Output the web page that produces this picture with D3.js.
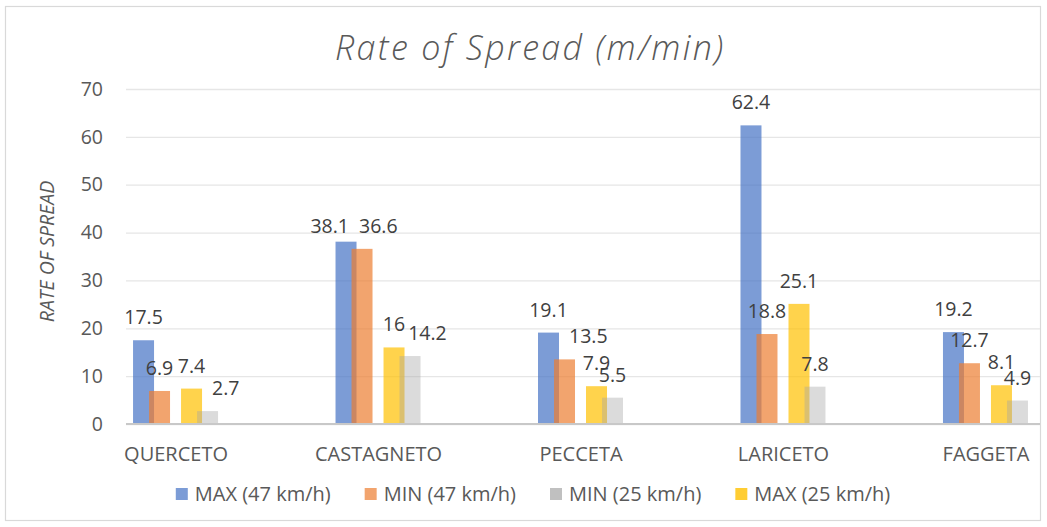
<!DOCTYPE html>
<html>
<head>
<meta charset="utf-8">
<script src="https://cdn.jsdelivr.net/npm/d3@7/dist/d3.min.js"></script>
<style>
  html, body { margin: 0; padding: 0; background: #fff; }
  svg { display: block; }
  text { font-family: "Open Sans", "Noto Sans", sans-serif; }
</style>
</head>
<body>
<svg id="chart" width="1047" height="527"></svg>
<script>
// Rate of spread by forest type (m/min)
const categories = ["QUERCETO", "CASTAGNETO", "PECCETA", "LARICETO", "FAGGETA"];
const max47 = [17.5, 38.1, 19.1, 62.4, 19.2];
const min47 = [6.9, 36.6, 13.5, 18.8, 12.7];
const min25 = [2.7, 14.2, 5.5, 7.8, 4.9];
const max25 = [7.4, 16, 7.9, 25.1, 8.1];
const yTicks = [0, 10, 20, 30, 40, 50, 60, 70];
const seriesLabels = ["MAX (47 km/h)", "MIN (47 km/h)", "MIN (25 km/h)", "MAX (25 km/h)"];

// series in legend order, with their fill styles
const series = [
  { key: "max47", name: seriesLabels[0], values: max47, color: "#4472C4", barOpacity: 0.7, keyOpacity: 0.7 },
  { key: "min47", name: seriesLabels[1], values: min47, color: "#ED7D31", barOpacity: 0.7, keyOpacity: 0.7 },
  { key: "min25", name: seriesLabels[2], values: min25, color: "#A5A5A5", barOpacity: 0.4, keyOpacity: 0.7 },
  { key: "max25", name: seriesLabels[3], values: max25, color: "#FFC000", barOpacity: 0.7, keyOpacity: 0.8 }
];
const byKey = Object.fromEntries(series.map(s => [s.key, s]));
// slot order inside each category group (one empty slot between the pairs)
const slotOrder = ["max47", "min47", "gap", "max25", "min25"];
const drawOrder = ["max47", "min47", "max25", "min25"];

const W = 1047, H = 527;
const plot = { left: 126, right: 1040, top: 89, bottom: 424 };
const svg = d3.select("#chart");

svg.append("rect").attr("width", W).attr("height", H).attr("fill", "#fff");
svg.append("rect")
  .attr("x", 5.5).attr("y", 6.5).attr("width", 1035).attr("height", 514)
  .attr("fill", "none").attr("stroke", "#D9D9D9").attr("stroke-width", 1.2);

const x = d3.scalePoint().domain(categories).range([plot.left, plot.right]).padding(0.257).align(0.476);
const y = d3.scaleLinear().domain([0, 70]).range([plot.bottom, plot.top]);
const slot = d3.scalePoint().domain(slotOrder).range([-32, 32]);
const barW = 21;

// title, spaced out to its set width
const titleText = "Rate of Spread (m/min)";
const title = svg.append("text")
  .attr("y", 60)
  .attr("font-size", 34).attr("font-style", "italic").attr("font-weight", 300)
  .attr("fill", "#595959")
  .text(titleText);
const titleWidth = 388, titleCenter = 529;
const natural = title.node().getComputedTextLength();
const spacing = Math.max(0, (titleWidth - natural) / (titleText.length - 1));
title.attr("letter-spacing", spacing).attr("x", titleCenter - titleWidth / 2);

// value axis: gridlines and labels
const yAxis = d3.axisLeft(y).tickValues(yTicks).tickSize(-(plot.right - plot.left)).tickPadding(23);
const gy = svg.append("g").attr("transform", `translate(${plot.left},0)`).call(yAxis);
gy.select(".domain").remove();
gy.selectAll(".tick line").attr("stroke", "#E6E6E6").attr("stroke-width", 1.3);
gy.selectAll(".tick text")
  .attr("font-size", 19.5).attr("fill", "#595959")
  .attr("font-family", "'Open Sans', sans-serif");

svg.append("text")
  .attr("transform", `translate(54,${(plot.top + plot.bottom) / 2 - 5}) rotate(-90)`)
  .attr("text-anchor", "middle")
  .attr("font-size", 19.5).attr("font-style", "italic")
  .attr("fill", "#595959")
  .text("RATE OF SPREAD");

// bars
const bars = [];
categories.forEach((c, i) => {
  drawOrder.forEach(k => {
    const s = byKey[k];
    const v = s.values[i];
    bars.push({ cat: c, i, key: k, v, cx: x(c) + slot(k), top: y(v) });
  });
});
svg.append("g").selectAll("rect").data(bars).join("rect")
  .attr("x", d => d.cx - barW / 2)
  .attr("y", d => y(d.v))
  .attr("width", barW)
  .attr("height", d => y(0) - y(d.v))
  .attr("fill", d => byKey[d.key].color)
  .attr("fill-opacity", d => byKey[d.key].barOpacity);

// category axis
const xAxis = d3.axisBottom(x).tickSize(0).tickPadding(23);
const gx = svg.append("g").attr("transform", `translate(0,${plot.bottom})`).call(xAxis);
gx.select(".domain").remove();
gx.selectAll(".tick text").attr("font-size", 20).attr("fill", "#595959")
  .attr("font-family", "'Open Sans', sans-serif");
svg.append("line")
  .attr("x1", plot.left).attr("x2", plot.right)
  .attr("y1", plot.bottom).attr("y2", plot.bottom)
  .attr("stroke", "#C8C8C8").attr("stroke-width", 2.2);

// data labels with simple collision handling
const labelG = svg.append("g");
const labels = bars.map(b => {
  const t = labelG.append("text")
    .attr("font-size", 19.5).attr("fill", "#404040")
    .attr("text-anchor", "middle")
    .text(String(b.v));
  const w = t.node().getComputedTextLength();
  return { bar: b, node: t, w, cx: b.cx, base: b.top - 16 };
});
const glyphH = 14;
categories.forEach(c => {
  const group = labels.filter(l => l.bar.cat === c)
    .sort((a, b) => slotOrder.indexOf(a.bar.key) - slotOrder.indexOf(b.bar.key));
  const groupBars = bars.filter(b => b.cat === c);
  // keep labels off the top edge of neighbouring bars
  group.forEach(l => {
    groupBars.forEach(b => {
      if (b === l.bar) return;
      const left = l.cx - l.w / 2, right = l.cx + l.w / 2;
      const bl = b.cx - barW / 2, br = b.cx + barW / 2;
      const crossesTop = b.top > l.base - glyphH && b.top < l.base;
      if (crossesTop && right > bl && left < br) l.cx = br + 10 + l.w / 2;
    });
  });
  // separate overlapping labels
  group.forEach((l, i) => {
    for (let j = 0; j < i; j++) {
      const o = group[j];
      const dy = Math.abs(l.base - o.base);
      const need = (l.w + o.w) / 2;
      if (dy < 11 && Math.abs(l.cx - o.cx) < need) {
        if (dy < 8) {
          const d = (need + 10 - Math.abs(l.cx - o.cx)) / 2;
          o.cx -= d; l.cx += d;
          const base = Math.max(l.base, o.base);
          l.base = base; o.base = base;
        } else {
          l.cx = o.cx + need + 3;
        }
      }
    }
  });
});
labels.forEach(l => l.node.attr("x", l.cx).attr("y", l.base));

// legend
const legend = svg.append("g");
const items = series.map(s => {
  const g = legend.append("g");
  g.append("rect").attr("width", 12).attr("height", 12).attr("y", -6)
    .attr("fill", s.color).attr("fill-opacity", s.keyOpacity);
  const t = g.append("text").attr("x", 19).attr("dy", "0.36em")
    .attr("font-size", 20).attr("fill", "#595959").text(s.name);
  return { g, w: 19 + t.node().getComputedTextLength() };
});
const itemGap = 34;
const total = d3.sum(items, d => d.w) + itemGap * (items.length - 1);
let lx = 533 - total / 2;
items.forEach(it => {
  it.g.attr("transform", `translate(${lx},494)`);
  lx += it.w + itemGap;
});
</script>
</body>
</html>
